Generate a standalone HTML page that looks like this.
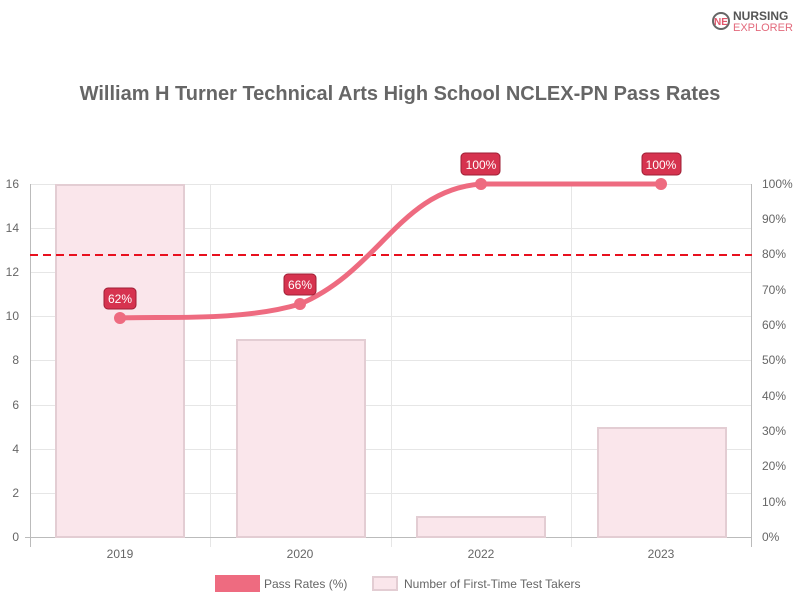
<!DOCTYPE html>
<html><head><style>body{margin:0;background:#fff}svg{display:block;font-family:"Liberation Sans",sans-serif}</style></head><body>
<svg width="800" height="600" viewBox="0 0 800 600">
<g transform="translate(712,10)"><circle cx="9" cy="11" r="8" fill="none" stroke="#666" stroke-width="2"/><text x="9" y="15" font-size="10" font-weight="bold" fill="#e0566b" text-anchor="middle">NE</text></g>
<text x="733" y="20" font-size="12" font-weight="bold" fill="#555">NURSING</text>
<text x="733" y="31" font-size="11" fill="#e36a7c">EXPLORER</text>
<text x="400" y="100" font-size="20" font-weight="bold" fill="#666" text-anchor="middle">William H Turner Technical Arts High School NCLEX-PN Pass Rates</text>
<g stroke="#e6e6e6" stroke-width="1">
<line x1="30" x2="752" y1="184.5" y2="184.5"/><line x1="30" x2="752" y1="228.5" y2="228.5"/><line x1="30" x2="752" y1="272.5" y2="272.5"/><line x1="30" x2="752" y1="316.5" y2="316.5"/><line x1="30" x2="752" y1="360.5" y2="360.5"/><line x1="30" x2="752" y1="405.5" y2="405.5"/><line x1="30" x2="752" y1="449.5" y2="449.5"/><line x1="30" x2="752" y1="493.5" y2="493.5"/>
<line x1="210.5" x2="210.5" y1="184" y2="547"/><line x1="391.5" x2="391.5" y1="184" y2="547"/><line x1="571.5" x2="571.5" y1="184" y2="547"/>
</g>
<g stroke="#bbb"><line x1="30.5" x2="30.5" y1="184" y2="547"/><line x1="751.5" x2="751.5" y1="184" y2="547"/><line x1="25" x2="752" y1="537.5" y2="537.5"/></g>
<g fill="#fae6eb" stroke="#e3cdd3" stroke-width="2">
<rect x="56" y="185" width="128" height="352"/><rect x="237" y="340" width="128" height="197"/><rect x="417" y="517" width="128" height="20"/><rect x="598" y="428" width="128" height="109"/>
</g>
<line x1="30" x2="752" y1="255" y2="255" stroke="#e8101e" stroke-width="2" stroke-dasharray="8,5"/>
<path d="M120,318 C160,316 240,322 300,304 C380,270 400,190 481,184 L661,184" fill="none" stroke="#ee6b80" stroke-width="5"/>
<g fill="#ee6b80"><circle cx="120" cy="318" r="6"/><circle cx="300" cy="304" r="6"/><circle cx="481" cy="184" r="6"/><circle cx="661" cy="184" r="6"/></g>
<g fill="#d6334f" stroke="#9e1f35"><rect x="104" y="288" width="32" height="21" rx="4"/><rect x="284" y="274" width="32" height="21" rx="4"/><rect x="461" y="153" width="39" height="22" rx="4"/><rect x="642" y="153" width="39" height="22" rx="4"/></g>
<g fill="#fff" font-size="12" text-anchor="middle"><text x="120" y="303">62%</text><text x="300" y="289">66%</text><text x="481" y="169">100%</text><text x="661" y="169">100%</text></g>
<g fill="#666" font-size="12" text-anchor="end"><text x="19" y="188">16</text><text x="19" y="232">14</text><text x="19" y="276">12</text><text x="19" y="320">10</text><text x="19" y="364">8</text><text x="19" y="409">6</text><text x="19" y="453">4</text><text x="19" y="497">2</text><text x="19" y="541">0</text></g>
<g fill="#666" font-size="12"><text x="762" y="188">100%</text><text x="762" y="223">90%</text><text x="762" y="258">80%</text><text x="762" y="294">70%</text><text x="762" y="329">60%</text><text x="762" y="364">50%</text><text x="762" y="400">40%</text><text x="762" y="435">30%</text><text x="762" y="470">20%</text><text x="762" y="506">10%</text><text x="762" y="541">0%</text></g>
<g fill="#666" font-size="12" text-anchor="middle"><text x="120" y="558">2019</text><text x="300" y="558">2020</text><text x="481" y="558">2022</text><text x="661" y="558">2023</text></g>
<rect x="215" y="575" width="45" height="17" fill="#ee6b80"/>
<text x="264" y="588" font-size="12" fill="#666">Pass Rates (%)</text>
<rect x="373" y="577" width="24" height="13" fill="#fae6eb" stroke="#e3cdd3" stroke-width="2"/>
<text x="404" y="588" font-size="12" fill="#666">Number of First-Time Test Takers</text>
</svg>
</body></html>
